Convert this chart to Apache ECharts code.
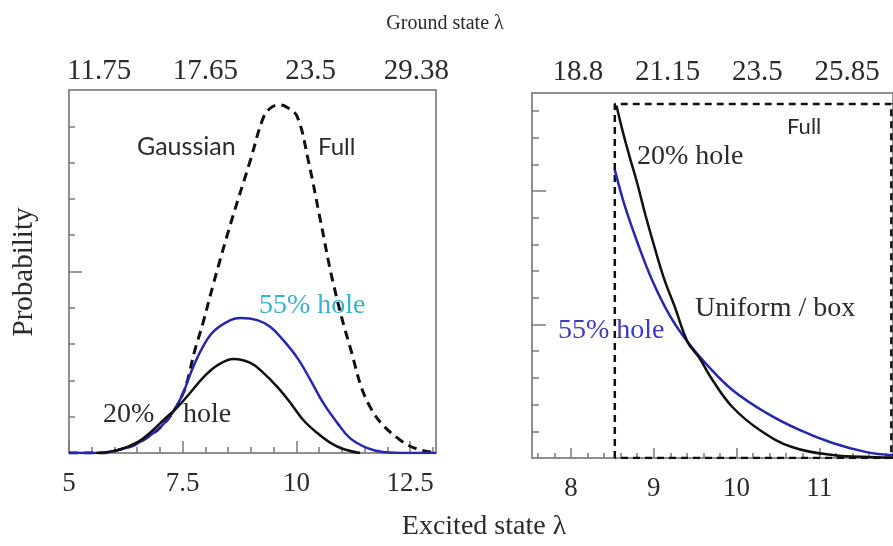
<!DOCTYPE html>
<html><head><meta charset="utf-8">
<script src="https://cdn.jsdelivr.net/npm/echarts@6/dist/echarts.min.js"></script>
<style>html,body{margin:0;padding:0;background:#fff}#c{width:893px;height:546px}</style>
</head><body><div id="c"></div>
<script>
// ---------- data (left panel: Gaussian) ----------
const fullX  = [5.0, 5.7, 6.07, 6.43, 6.73, 7.02, 7.30, 7.50, 7.61, 7.75, 7.95, 8.18, 8.55, 8.99, 9.28, 9.45, 9.62, 9.80, 10.02, 10.26, 10.53, 10.81, 11.18, 11.62, 12.28, 12.94, 13.07];
const fullY  = [0, 0, 0.08, 0.22, 0.44, 0.72, 1.15, 1.62, 2.02, 2.75, 3.60, 4.68, 6.30, 8.07, 9.26, 9.52, 9.59, 9.52, 9.26, 8.07, 6.40, 4.68, 2.92, 1.27, 0.36, 0.03, 0.02];
const g55X   = [5.0, 5.7, 6.07, 6.43, 6.73, 7.02, 7.30, 7.50, 7.61, 7.74, 7.94, 8.18, 8.55, 8.77, 9.14, 9.43, 9.71, 10.02, 10.31, 10.59, 10.90, 11.18, 11.55, 11.90, 12.5, 13.07];
const g55Y   = [0, 0, 0.08, 0.22, 0.44, 0.72, 1.15, 1.62, 1.98, 2.40, 2.92, 3.35, 3.66, 3.72, 3.66, 3.47, 3.11, 2.62, 2.01, 1.38, 0.83, 0.41, 0.14, 0.03, 0, 0];
const g20X   = [5.6, 6.07, 6.51, 6.80, 7.08, 7.39, 7.68, 7.96, 8.27, 8.62, 8.99, 9.28, 9.58, 9.87, 10.15, 10.46, 10.75, 11.03, 11.40];
const g20Y   = [0, 0.08, 0.30, 0.58, 0.91, 1.27, 1.68, 2.09, 2.42, 2.59, 2.48, 2.20, 1.82, 1.38, 0.91, 0.55, 0.28, 0.11, 0];
// ---------- data (right panel: Uniform / box) ----------
const boxX   = [8.53, 8.53, 11.87, 11.87, 8.53];
const boxY   = [0, 13.26, 13.26, 0, 0];
const u20X   = [8.55, 8.62, 8.71, 8.80, 8.90, 9.00, 9.13, 9.25, 9.41, 9.55, 9.71, 9.95, 10.28, 10.67, 11.16, 11.69, 11.89];
const u20Y   = [13.2, 12.3, 11.27, 10.3, 9.1, 8.0, 6.67, 5.7, 4.34, 3.75, 2.92, 1.91, 1.05, 0.41, 0.11, 0.03, 0.02];
const u55X   = [8.53, 8.65, 8.80, 8.98, 9.20, 9.41, 9.64, 9.95, 10.36, 10.76, 11.16, 11.57, 11.89];
const u55Y   = [10.79, 9.45, 8.1, 6.67, 5.3, 4.34, 3.5, 2.55, 1.69, 1.05, 0.56, 0.22, 0.1];
// ---------- tick labels ----------
const leftBottomLabels  = [5, 7.5, 10, 12.5];
const leftTopLabels     = [11.75, 17.65, 23.5, 29.38];
const rightBottomLabels = [8, 9, 10, 11];
const rightTopLabels    = [18.8, 21.15, 23.5, 25.85];
const leftXMinor  = [5.5, 6, 6.5, 7, 8, 8.5, 9, 9.5, 10.5, 11, 11.5, 12, 13];
const rightXMinor = [7.6, 7.8, 8.2, 8.4, 8.6, 8.8, 9.2, 9.4, 9.6, 9.8, 10.2, 10.4, 10.6, 10.8, 11.2, 11.4, 11.6, 11.8];
const leftYMajor  = [5];
const leftYMinor  = [1, 2, 3, 4, 6, 7, 8, 9];
const rightYMajor = [5, 10];
const rightYMinor = [1, 2, 3, 4, 6, 7, 8, 9, 11, 12, 13];

const zip = (xs, ys) => xs.map((x, i) => [x, ys[i]]);
const SERIF = '"Liberation Serif", "Times New Roman", serif';
const SANS = 'Lato, "Open Sans", sans-serif';
const TICK = '#7a7a7a';
const TXT = '#2b2b2b';

function tickAxis(grid, pos, vals, len, extra) {
  return Object.assign({
    type: 'value', gridIndex: grid, position: pos,
    axisLine: {show: false}, splitLine: {show: false},
    axisLabel: {show: false},
    axisTick: {show: true, inside: true, length: len, customValues: vals, lineStyle: {color: TICK, width: 1.5}}
  }, extra);
}
function labelAxis(grid, pos, labels, margin, size, extra) {
  return Object.assign({
    type: 'value', gridIndex: grid, position: pos,
    axisLine: {show: false}, splitLine: {show: false},
    axisTick: {show: false},
    axisLabel: {show: true, customValues: labels, margin: margin, color: TXT, fontFamily: SERIF, fontSize: size,
      formatter: v => String(v)}
  }, extra);
}

const chart = echarts.init(document.getElementById('c'), null, {renderer: 'canvas'});
const option = {
  animation: false,
  backgroundColor: '#fff',
  grid: [
    {left: 69, top: 90, width: 367, height: 363, show: true, borderColor: '#8e8e8e', borderWidth: 2, containLabel: false},
    {left: 532, top: 93, width: 362, height: 365, show: true, borderColor: '#8e8e8e', borderWidth: 2, containLabel: false}
  ],
  xAxis: [
    Object.assign(labelAxis(0, 'bottom', leftBottomLabels, 17, 27, {min: 5, max: 13.07}),
      {axisTick: {show: true, inside: true, length: 12, customValues: leftBottomLabels, lineStyle: {color: TICK, width: 1.5}}}),
    tickAxis(0, 'bottom', leftXMinor, 6, {min: 5, max: 13.07}),
    labelAxis(0, 'top', leftTopLabels, 4, 29, {min: 10.08, max: 30.47}),
    Object.assign(labelAxis(1, 'bottom', rightBottomLabels, 17, 27, {min: 7.53, max: 11.89}),
      {axisTick: {show: true, inside: true, length: 10, customValues: rightBottomLabels, lineStyle: {color: TICK, width: 1.5}}}),
    tickAxis(1, 'bottom', rightXMinor, 5, {min: 7.53, max: 11.89}),
    labelAxis(1, 'top', rightTopLabels, 6, 29, {min: 17.6, max: 27.05})
  ],
  yAxis: [
    tickAxis(0, 'left', leftYMajor, 13, {min: 0, max: 10}),
    tickAxis(0, 'left', leftYMinor, 6, {min: 0, max: 10}),
    tickAxis(1, 'left', rightYMajor, 14, {min: 0, max: 13.67}),
    tickAxis(1, 'left', rightYMinor, 7, {min: 0, max: 13.67})
  ],
  series: [
    {name: 'Full', type: 'line', xAxisIndex: 0, yAxisIndex: 0, data: zip(fullX, fullY), smooth: 0.4, symbol: 'none',
      lineStyle: {color: '#111', width: 3, type: [9, 6]}, z: 2},
    {name: '55% hole', type: 'line', xAxisIndex: 0, yAxisIndex: 0, data: zip(g55X, g55Y), smooth: 0.4, symbol: 'none',
      lineStyle: {color: '#2626b0', width: 2.5}, z: 3},
    {name: '20% hole', type: 'line', xAxisIndex: 0, yAxisIndex: 0, data: zip(g20X, g20Y), smooth: 0.4, symbol: 'none',
      lineStyle: {color: '#111', width: 2.5}, z: 4},
    {name: 'Full box', type: 'line', xAxisIndex: 3, yAxisIndex: 2, data: zip(boxX, boxY), symbol: 'none',
      lineStyle: {color: '#111', width: 2.5, type: [7, 5]}, z: 2},
    {name: '55% hole box', type: 'line', xAxisIndex: 3, yAxisIndex: 2, data: zip(u55X, u55Y), smooth: 0.4, symbol: 'none',
      lineStyle: {color: '#2626b0', width: 2.5}, z: 3},
    {name: '20% hole box', type: 'line', xAxisIndex: 3, yAxisIndex: 2, data: zip(u20X, u20Y), smooth: 0.4, symbol: 'none',
      lineStyle: {color: '#111', width: 2.5}, z: 4}
  ],
  graphic: [
    {type: 'text', x: 445, y: 24, style: {text: 'Ground state λ', font: '20px ' + SERIF, fill: TXT, textAlign: 'center', textVerticalAlign: 'middle'}},
    {type: 'text', x: 484, y: 527, style: {text: 'Excited state λ', font: '28px ' + SERIF, fill: TXT, textAlign: 'center', textVerticalAlign: 'middle'}},
    {type: 'text', x: 24, y: 272, rotation: Math.PI / 2, style: {text: 'Probability', font: '29px ' + SERIF, fill: TXT, textAlign: 'center', textVerticalAlign: 'middle'}},
    {type: 'text', x: 137, y: 147, style: {text: 'Gaussian', font: '25px ' + SANS, fill: TXT, textAlign: 'left', textVerticalAlign: 'middle'}},
    {type: 'text', x: 318, y: 147, style: {text: 'Full', font: '24px ' + SANS, fill: TXT, textAlign: 'left', textVerticalAlign: 'middle'}},
    {type: 'text', x: 259, y: 306, style: {text: '55% hole', font: '28px ' + SERIF, fill: '#3ab0cc', textAlign: 'left', textVerticalAlign: 'middle'}},
    {type: 'text', x: 103, y: 415, style: {text: '20%', font: '28px ' + SERIF, fill: TXT, textAlign: 'left', textVerticalAlign: 'middle'}},
    {type: 'text', x: 183, y: 415, style: {text: 'hole', font: '28px ' + SERIF, fill: TXT, textAlign: 'left', textVerticalAlign: 'middle'}},
    {type: 'text', x: 787, y: 127, style: {text: 'Full', font: '22px ' + SANS, fill: TXT, textAlign: 'left', textVerticalAlign: 'middle'}},
    {type: 'text', x: 637, y: 157, style: {text: '20% hole', font: '28px ' + SERIF, fill: TXT, textAlign: 'left', textVerticalAlign: 'middle'}},
    {type: 'text', x: 695, y: 309, style: {text: 'Uniform / box', font: '28px ' + SERIF, fill: TXT, textAlign: 'left', textVerticalAlign: 'middle'}},
    {type: 'text', x: 558, y: 331, style: {text: '55% hole', font: '28px ' + SERIF, fill: '#3b3bc4', textAlign: 'left', textVerticalAlign: 'middle'}}
  ]
};
chart.setOption(option);
</script>
</body></html>
